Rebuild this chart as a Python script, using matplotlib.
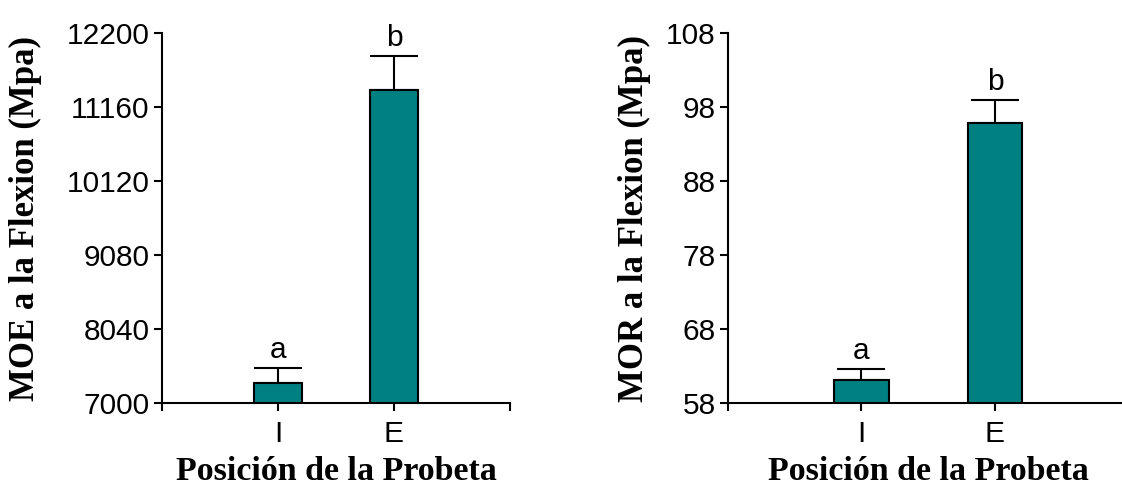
import numpy as np
import matplotlib.pyplot as plt

# datos de flexion por posicion de la probeta
posiciones = ["I", "E"]
moe_media = [7290, 11400]
moe_error = [210, 480]
mor_media = [61.2, 95.9]
mor_error = [1.4, 3.1]
letras = ["a", "b"]

moe_ticks = [7000, 8040, 9080, 10120, 11160, 12200]
mor_ticks = [58, 68, 78, 88, 98, 108]

verde = "#008080"
fuente_num = "Liberation Sans"
fuente_tit = "Liberation Serif"

fig = plt.figure(figsize=(11.22, 4.87), dpi=100)
ax1 = fig.add_axes([0.1444, 0.1718, 0.3101, 0.7598])
ax2 = fig.add_axes([0.6488, 0.1718, 0.3570, 0.7598])


def dibujar(ax, medias, errores, ticks, ylab, pad_y):
    x = np.arange(1, len(medias) + 1)
    ax.bar(x, medias, width=0.41, color=verde, edgecolor="black", linewidth=1.5,
           zorder=2)
    ax.errorbar(x, medias, yerr=[np.zeros(len(errores)), errores], fmt="none",
                ecolor="black", elinewidth=1.5, capsize=17.5, capthick=1.5,
                zorder=1)
    for xi, m, e, l in zip(x, medias, errores, letras):
        ax.annotate(l, (xi, m + e), xytext=(0, 3), textcoords="offset points",
                    ha="center", va="bottom", fontsize=21.5, family=fuente_num)
    ax.set_xlim(0, 3)
    ax.set_ylim(ticks[0], ticks[-1])
    ax.set_xticks([0, 1, 2, 3])
    ax.set_xticklabels([""] + posiciones + [""])
    ax.set_yticks(ticks)
    ax.set_yticklabels([str(t) for t in ticks])
    for s in ["top", "right"]:
        ax.spines[s].set_visible(False)
    for s in ["left", "bottom"]:
        ax.spines[s].set_linewidth(1.5)
    ax.tick_params(direction="out", length=6, width=1.5, labelsize=21.5)
    ax.tick_params(axis="y", pad=3)
    ax.tick_params(axis="x", pad=6)
    for t in ax.get_xticklabels() + ax.get_yticklabels():
        t.set_family(fuente_num)
    ax.set_xlabel("Posición de la Probeta", fontsize=24.5, fontweight="bold",
                  family=fuente_tit, labelpad=6)
    ax.set_ylabel(ylab, fontsize=25, fontweight="bold", family=fuente_tit,
                  labelpad=pad_y)


dibujar(ax1, moe_media, moe_error, moe_ticks, "MOE a la Flexion (Mpa)", 18)
dibujar(ax2, mor_media, mor_error, mor_ticks, "MOR a la Flexion (Mpa)", 11)

fig.savefig("out.png", dpi=100)
